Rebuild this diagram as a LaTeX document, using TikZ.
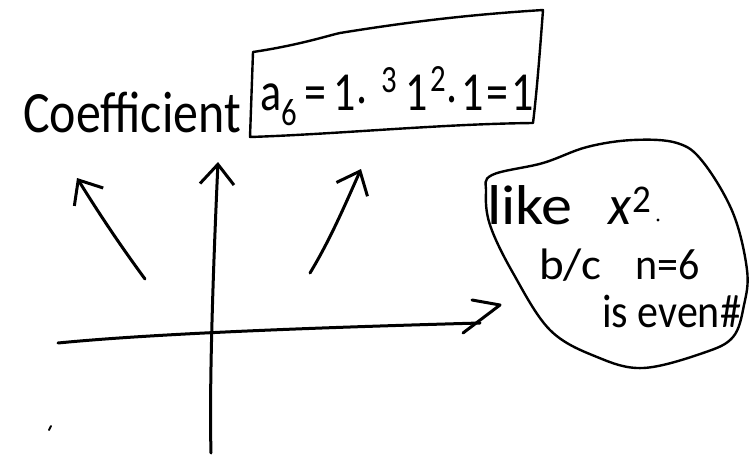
\documentclass[tikz,border=0pt]{standalone}
\usepackage{fontspec}
\setmainfont{Carlito}
\usetikzlibrary{arrows.meta}
\tikzset{
  ink/.style={line width=3pt, line cap=round, line join=round, draw=black},
  thinink/.style={line width=2.4pt, line cap=round, line join=round, draw=black},
  barb/.style={-{Straight Barb[length=20pt,width=34pt,line width=3pt]}},
  hand/.style={inner sep=0pt, font=\fontsize{48}{52}\selectfont, anchor=base west},
  eqtext/.style={inner sep=0pt, font=\fontsize{44}{48}\selectfont, anchor=base west},
  bubtext/.style={inner sep=0pt, font=\fontsize{46}{50}\selectfont, anchor=base west},
  bubsmall/.style={inner sep=0pt, font=\fontsize{42}{46}\selectfont, anchor=base west},
}
\newcommand{\handsc}[3]{\scalebox{#1}[#2]{#3}}
\begin{document}
\begin{tikzpicture}[x=1pt,y=-1pt]
\useasboundingbox (0,0) rectangle (751,460);
\fill[white] (0,0) rectangle (751,460);

% texts
\node[hand] (coef) at (23,132) {\handsc{1.04}{1.22}{Coefficient}};
\node[eqtext] (eq) at (260,110) {\handsc{1}{1.25}{a\textsubscript{6}\,=\,1\raisebox{5pt}{.}\hspace{14pt}\raisebox{5pt}{\textsuperscript{3}}\hspace{8pt}1\hspace{3pt}\raisebox{6pt}{\textsuperscript{2}}\raisebox{6pt}{.}\hspace{3pt}1\hspace{3pt}=\hspace{3pt}1}};

% box around the equation
\coordinate (b1) at (253,52);
\coordinate (b2) at (340,33);
\coordinate (b3) at (543,10);
\coordinate (b4) at (533,123);
\coordinate (b5) at (250,137);
\draw[thinink] (b1) .. controls (300,45) and (330,35) .. (b2) .. controls (420,20) and (480,14) .. (b3) .. controls (540,50) and (537,90) .. (b4) .. controls (440,124) and (340,134) .. (b5) -- cycle;

% bubble
\node[bubtext] (like) at (487,224) {\handsc{1.35}{1.22}{like}\hspace{36pt}\handsc{1.15}{1.22}{\textit{x}\textsuperscript{2}}};
\node[bubsmall] (bc) at (539,279) {\handsc{1.12}{1.05}{b/c}\hspace{34pt}\handsc{1}{1.05}{n=6}};
\node[bubsmall] (even) at (602,327) {\handsc{1}{1.12}{is even\#}};
\coordinate (dot1) at (658,220);
\fill (dot1) circle (1.6);
\draw[thinink] plot[smooth cycle, tension=0.6] coordinates {
  (492,175) (543,163) (587,147) (633,140) (677,143) (703,162)
  (733,213) (747,270) (744,305) (733,337) (703,353) (643,368)
  (597,357) (550,330) (513,273) (490,225) (486,192)};

% arrows
\coordinate (la0) at (145,279);
\coordinate (la1) at (77,178);
\draw[ink, barb] (la0) .. controls (120,245) and (100,215) .. (la1);

\coordinate (ra0) at (310,273);
\coordinate (ra1) at (361,169);
\draw[ink, barb] (ra0) .. controls (330,240) and (345,205) .. (ra1);

\coordinate (ya0) at (211,453);
\coordinate (ya1) at (218,162);
\draw[ink, barb] (ya0) .. controls (209,380) and (214,250) .. (ya1);

\coordinate (xa0) at (58,343);
\coordinate (xa1) at (480,323);
\draw[ink] (xa0) .. controls (150,334) and (300,328) .. (xa1);
\coordinate (xh1) at (472,300);
\coordinate (xh2) at (500,305);
\coordinate (xh3) at (463,333);
\draw[ink] (xh1) -- (xh2) -- (xh3);

% stray mark
\coordinate (m0) at (49,430);
\coordinate (m1) at (51,426);
\draw[ink, line width=2pt] (m0) -- (m1);
\end{tikzpicture}
\end{document}
